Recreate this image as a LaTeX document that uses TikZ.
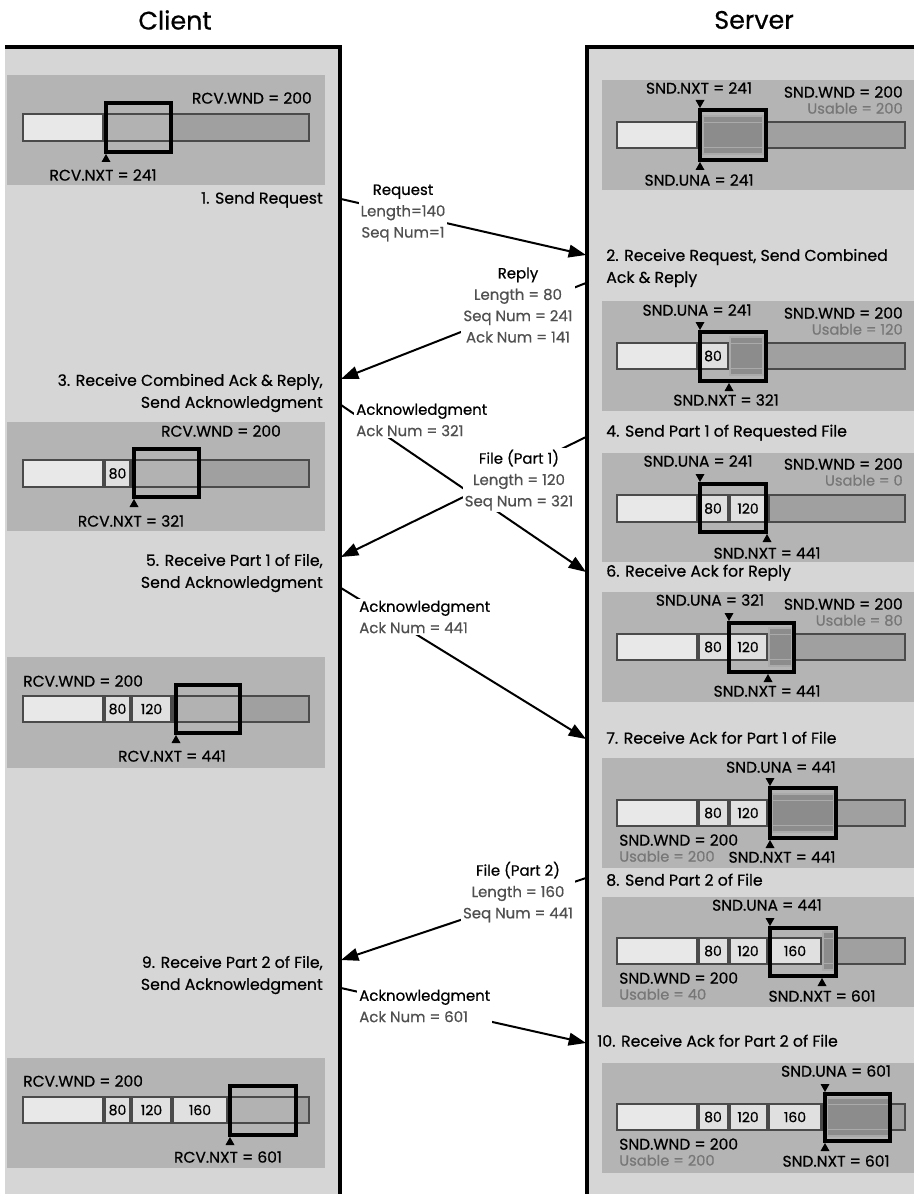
\documentclass[tikz,border=0pt]{standalone}
\usepackage{fontspec}
\setmainfont{Poppins}[FakeBold=0.6]
\usetikzlibrary{arrows.meta}
\definecolor{panelgray}{HTML}{D6D6D6}
\definecolor{boxgray}{HTML}{B4B4B4}
\definecolor{barline}{HTML}{4A4A4A}
\definecolor{lightseg}{HTML}{E8E8E8}
\definecolor{cellc}{HTML}{E0E0E0}
\definecolor{winfill}{HTML}{B2B2B2}
\definecolor{future}{HTML}{A0A0A0}
\definecolor{usefill}{HTML}{8C8C8C}
\definecolor{useedge}{HTML}{AAAAAA}
\definecolor{usetext}{HTML}{777777}
\definecolor{msgtext}{HTML}{505050}
\newcommand\ftitle{\fontsize{19}{22}\selectfont}
\newcommand\fstep{\fontsize{11.8}{16.5}\selectfont}
\newcommand\fbar{\fontsize{11.6}{12}\selectfont}
\newcommand\fuse{\fontsize{11}{11}\selectfont}
\newcommand\fmsg{\fontsize{11.2}{16}\selectfont}
\newcommand\fcell{\fontsize{10.5}{10}\selectfont}
% segment of a bar: x0 x1 y0 y1 colour
\newcommand\seg[5]{\fill[#5] ({#1+2},{#3+2}) rectangle ({#2-2},{#4-2});}
\newcommand\triup[2]{\fill (#1,#2) -- ({#1-4.5},{#2+8}) -- ({#1+4.5},{#2+8}) -- cycle;}
\newcommand\tridown[2]{\fill (#1,#2) -- ({#1-4.5},{#2-8}) -- ({#1+4.5},{#2-8}) -- cycle;}
% usable area: x0 x1 bar-y0 bar-y1
\newcommand\usable[4]{\fill[usefill,draw=useedge,line width=1.2pt] (#1,{#3-5}) rectangle (#2,{#4+5});
  \draw[useedge,line width=1.2pt] (#1,{#3+1.5}) -- (#2,{#3+1.5}) (#1,{#4-1.5}) -- (#2,{#4-1.5});}
\tikzset{
  steptext/.style={font=\fstep, inner sep=0pt},
  barlab/.style={font=\fbar, inner sep=0pt, anchor=mid},
  uselab/.style={font=\fuse, text=usetext, inner sep=0pt},
  celllab/.style={font=\fcell, inner sep=0pt},
  winbox/.style={draw=black, line width=2.3pt},
  msglab/.style={font=\fmsg, fill=white, inner sep=1.5pt, text=msgtext},
  msgarrow/.style={line width=1.5pt, -{Triangle[length=13pt,width=9.5pt]}},
  border/.style={line width=2.4pt},
  titlelab/.style={font=\ftitle, inner sep=0pt}
}
\begin{document}
\begin{tikzpicture}[x=0.75pt,y=-0.75pt]
\useasboundingbox (0,0) rectangle (914,1194);
\fill[white] (0,0) rectangle (914,1194);
% titles
\node[titlelab] (tclient) at (175,20) {Client};
\node[titlelab] (tserver) at (754,20) {Server};
% panels
\fill[panelgray] (5,47) rectangle (340,1194);
\fill[panelgray] (587,47) rectangle (914,1194);
\draw[border] (5,47) -- (340,47) -- (340,1194);
\draw[border] (914,47) -- (587,47) -- (587,1194);

% ================= CLIENT =================
% box 1
\fill[boxgray] (7,75) rectangle (325,185);
\fill[barline] (22,113) rectangle (310,142);
\seg{22}{104}{113}{142}{lightseg}
\fill[future] (106,115) rectangle (308,140);
\fill[winfill] (106,115) rectangle (171,140);
\draw[winbox] (106,103) rectangle (171,152);
\triup{106}{154}
\node[barlab] (cnxt1) at (103,177) {RCV.NXT = 241};
\node[barlab, anchor=mid east] (cwnd1) at (312,100) {RCV.WND = 200};
\node[steptext, anchor=mid east] (cs1) at (323,200) {1. Send Request};

% box 2
\node[steptext, anchor=east, align=right] (cs3) at (323,393) {3. Receive Combined Ack \& Reply,\\Send Acknowledgment};
\fill[boxgray] (7,422) rectangle (325,531);
\fill[barline] (22,459) rectangle (310,488);
\seg{22}{104}{459}{488}{lightseg}
\seg{104}{131}{459}{488}{cellc}
\node[celllab] (c2a) at (117.5,473.5) {80};
\fill[future] (133,461) rectangle (308,486);
\fill[winfill] (133,461) rectangle (199,486);
\draw[winbox] (134,449) rectangle (199,497);
\triup{134}{499}
\node[barlab] (cnxt2) at (131,523) {RCV.NXT = 321};
\node[barlab] (cwnd2) at (221,433) {RCV.WND = 200};

% box 3
\node[steptext, anchor=east, align=right] (cs5) at (323,573) {5. Receive Part 1 of File,\\Send Acknowledgment};
\fill[boxgray] (7,657) rectangle (325,768);
\fill[barline] (22,695) rectangle (310,723);
\seg{22}{104}{695}{723}{lightseg}
\seg{104}{131}{695}{723}{cellc}
\seg{131}{172}{695}{723}{cellc}
\node[celllab] (c3a) at (117.5,709) {80};
\node[celllab] (c3b) at (151.5,709) {120};
\fill[future] (174,697) rectangle (308,721);
\fill[winfill] (174,697) rectangle (240,721);
\draw[winbox] (176,685) rectangle (240,733);
\triup{176}{735}
\node[barlab] (cnxt3) at (172,758) {RCV.NXT = 441};
\node[barlab, anchor=mid west] (cwnd3) at (23,683) {RCV.WND = 200};

% box 4
\node[steptext, anchor=east, align=right] (cs9) at (323,975) {9. Receive Part 2 of File,\\Send Acknowledgment};
\fill[boxgray] (7,1058) rectangle (325,1168);
\fill[barline] (22,1096) rectangle (310,1124);
\seg{22}{104}{1096}{1124}{lightseg}
\seg{104}{131}{1096}{1124}{cellc}
\seg{131}{172}{1096}{1124}{cellc}
\seg{172}{228}{1096}{1124}{cellc}
\node[celllab] (c4a) at (117.5,1110) {80};
\node[celllab] (c4b) at (151.5,1110) {120};
\node[celllab] (c4c) at (200,1110) {160};
\fill[future] (230,1098) rectangle (308,1122);
\fill[winfill] (230,1098) rectangle (296,1122);
\draw[winbox] (230,1086) rectangle (296,1135);
\triup{230}{1137}
\node[barlab] (cnxt4) at (228,1159) {RCV.NXT = 601};
\node[barlab, anchor=mid west] (cwnd4) at (23,1083) {RCV.WND = 200};

% ================= SERVER =================
% box 1
\fill[boxgray] (602,80) rectangle (914,190);
\fill[barline] (616,121) rectangle (906,149);
\seg{616}{698}{121}{149}{lightseg}
\fill[future] (700,123) rectangle (904,147);
\usable{703}{763}{121}{149}
\draw[winbox] (700,110) rectangle (766,160);
\tridown{700}{108}
\triup{700}{162}
\node[barlab] (snxt1) at (699,90) {SND.NXT = 241};
\node[barlab] (suna1) at (699,182) {SND.UNA = 241};
\node[barlab, anchor=mid east] (swnd1) at (903,94) {SND.WND = 200};
\node[uselab, anchor=mid east] (suse1) at (903,110) {Usable = 200};

% box 2
\node[steptext, anchor=west, align=left] (ss2) at (606,268) {2. Receive Request, Send Combined\\Ack \& Reply};
\fill[boxgray] (602,301) rectangle (914,411);
\fill[barline] (616,342) rectangle (906,370);
\seg{616}{698}{342}{370}{lightseg}
\seg{698}{728.5}{342}{370}{cellc}
\node[celllab] (s2a) at (713,356) {80};
\fill[future] (730.5,344) rectangle (904,368);
\usable{730}{763}{342}{370}
\draw[winbox] (700,332) rectangle (766,381);
\tridown{700}{330}
\triup{729}{383}
\node[barlab] (suna2) at (697,312) {SND.UNA = 241};
\node[barlab] (snxt2) at (726,402) {SND.NXT = 321};
\node[barlab, anchor=mid east] (swnd2) at (903,315) {SND.WND = 200};
\node[uselab, anchor=mid east] (suse2) at (903,331) {Usable = 120};

% box 3
\node[steptext, anchor=mid west] (ss4) at (606,433) {4. Send Part 1 of Requested File};
\fill[boxgray] (602,453) rectangle (914,562);
\fill[barline] (616,494) rectangle (906,523);
\seg{616}{698}{494}{523}{lightseg}
\seg{698}{728.5}{494}{523}{cellc}
\seg{728.5}{767.5}{494}{523}{cellc}
\node[celllab] (s3a) at (713,508.5) {80};
\node[celllab] (s3b) at (748,508.5) {120};
\fill[future] (769.5,496) rectangle (904,521);
\draw[winbox] (700,484) rectangle (766,532);
\tridown{700}{482}
\triup{767}{534}
\node[barlab] (suna3) at (698,463) {SND.UNA = 241};
\node[barlab] (snxt3) at (767,555) {SND.NXT = 441};
\node[barlab, anchor=mid east] (swnd3) at (903,466) {SND.WND = 200};
\node[uselab, anchor=mid east] (suse3) at (903,482) {Usable = 0};

% box 4
\node[steptext, anchor=mid west] (ss6) at (606,573) {6. Receive Ack for Reply};
\fill[boxgray] (602,592) rectangle (914,702);
\fill[barline] (616,633) rectangle (906,661);
\seg{616}{698}{633}{661}{lightseg}
\seg{698}{728.5}{633}{661}{cellc}
\seg{728.5}{767.5}{633}{661}{cellc}
\node[celllab] (s4a) at (713,647) {80};
\node[celllab] (s4b) at (748,647) {120};
\fill[future] (769.5,635) rectangle (904,659);
\usable{769}{792}{633}{661}
\draw[winbox] (729,623) rectangle (794,672);
\tridown{729}{621}
\triup{768}{674}
\node[barlab] (suna4) at (710,602) {SND.UNA = 321};
\node[barlab] (snxt4) at (767,693) {SND.NXT = 441};
\node[barlab, anchor=mid east] (swnd4) at (903,606) {SND.WND = 200};
\node[uselab, anchor=mid east] (suse4) at (903,622) {Usable = 80};

% box 5
\node[steptext, anchor=mid west] (ss7) at (606,740) {7. Receive Ack for Part 1 of File};
\fill[boxgray] (602,758) rectangle (914,868);
\fill[barline] (616,799) rectangle (906,827);
\seg{616}{698}{799}{827}{lightseg}
\seg{698}{728.5}{799}{827}{cellc}
\seg{728.5}{767.5}{799}{827}{cellc}
\node[celllab] (s5a) at (713,813) {80};
\node[celllab] (s5b) at (748,813) {120};
\fill[future] (769.5,801) rectangle (904,825);
\usable{772}{834}{799}{827}
\draw[winbox] (770,788) rectangle (836,838);
\tridown{770}{786}
\triup{770}{840}
\node[barlab] (suna5) at (781,769) {SND.UNA = 441};
\node[barlab] (snxt5) at (782,859) {SND.NXT = 441};
\node[barlab, anchor=mid west] (swnd5) at (619,842) {SND.WND = 200};
\node[uselab, anchor=mid west] (suse5) at (619,858) {Usable = 200};

% box 6
\node[steptext, anchor=mid west] (ss8) at (606,882) {8. Send Part 2 of File};
\fill[boxgray] (602,897) rectangle (914,1007);
\fill[barline] (616,937) rectangle (906,965);
\seg{616}{698}{937}{965}{lightseg}
\seg{698}{728.5}{937}{965}{cellc}
\seg{728.5}{767.5}{937}{965}{cellc}
\seg{767.5}{822}{937}{965}{cellc}
\node[celllab] (s6a) at (713,951) {80};
\node[celllab] (s6b) at (748,951) {120};
\node[celllab] (s6c) at (795,951) {160};
\fill[future] (824,939) rectangle (904,963);
\usable{823}{834}{937}{965}
\draw[winbox] (770,928) rectangle (836,976);
\tridown{770}{926}
\triup{822}{978}
\node[barlab] (suna6) at (767,907) {SND.UNA = 441};
\node[barlab] (snxt6) at (822,998) {SND.NXT = 601};
\node[barlab, anchor=mid west] (swnd6) at (619,980) {SND.WND = 200};
\node[uselab, anchor=mid west] (suse6) at (619,996) {Usable = 40};

% box 7
\node[steptext, anchor=mid west] (ss10) at (597,1043) {10. Receive Ack for Part 2 of File};
\fill[boxgray] (602,1063) rectangle (914,1173);
\fill[barline] (616,1103) rectangle (906,1131);
\seg{616}{698}{1103}{1131}{lightseg}
\seg{698}{728.5}{1103}{1131}{cellc}
\seg{728.5}{767.5}{1103}{1131}{cellc}
\seg{767.5}{822}{1103}{1131}{cellc}
\node[celllab] (s7a) at (713,1117) {80};
\node[celllab] (s7b) at (748,1117) {120};
\node[celllab] (s7c) at (795,1117) {160};
\fill[future] (824,1105) rectangle (904,1129);
\usable{827}{889}{1103}{1131}
\draw[winbox] (825,1094) rectangle (890,1141);
\tridown{825}{1092}
\triup{825}{1143}
\node[barlab] (suna7) at (836,1073) {SND.UNA = 601};
\node[barlab] (snxt7) at (836,1163) {SND.NXT = 601};
\node[barlab, anchor=mid west] (swnd7) at (619,1146) {SND.WND = 200};
\node[uselab, anchor=mid west] (suse7) at (619,1162) {Usable = 200};

% ================= MESSAGES =================
\coordinate (reqA) at (341,199);  \coordinate (reqB) at (586,255);
\coordinate (repA) at (586,283);  \coordinate (repB) at (341,379);
\coordinate (ak1A) at (341,405);  \coordinate (ak1B) at (586,572);
\coordinate (f1A) at (586,437);   \coordinate (f1B) at (341,557);
\coordinate (ak2A) at (341,588);  \coordinate (ak2B) at (586,739);
\coordinate (f2A) at (586,878);   \coordinate (f2B) at (341,960);
\coordinate (ak3A) at (341,988);  \coordinate (ak3B) at (586,1043);
\draw[msgarrow] (reqA) -- (reqB);
\draw[msgarrow] (repA) -- (repB);
\draw[msgarrow] (ak1A) -- (ak1B);
\draw[msgarrow] (f1A) -- (f1B);
\draw[msgarrow] (ak2A) -- (ak2B);
\draw[msgarrow] (f2A) -- (f2B);
\draw[msgarrow] (ak3A) -- (ak3B);

\node[msglab, align=center] (mreq) at (403,213) {\textcolor{black}{Request}\\Length=140\\Seq Num=1};
\node[msglab, align=center] (mrep) at (518,305) {\textcolor{black}{Reply}\\Length = 80\\Seq Num = 241\\Ack Num = 141};
\node[msglab, align=left, anchor=west] (mak1) at (354,420) {\textcolor{black}{Acknowledgment}\\Ack Num = 321};
\node[msglab, align=center] (mf1) at (519,480) {\textcolor{black}{File (Part 1)}\\Length = 120\\Seq Num = 321};
\node[msglab, align=left, anchor=west] (mak2) at (357,617) {\textcolor{black}{Acknowledgment}\\Ack Num = 441};
\node[msglab, align=center] (mf2) at (518,892) {\textcolor{black}{File (Part 2)}\\Length = 160\\Seq Num = 441};
\node[msglab, align=left, anchor=west] (mak3) at (357,1006) {\textcolor{black}{Acknowledgment}\\Ack Num = 601};
\end{tikzpicture}
\end{document}
